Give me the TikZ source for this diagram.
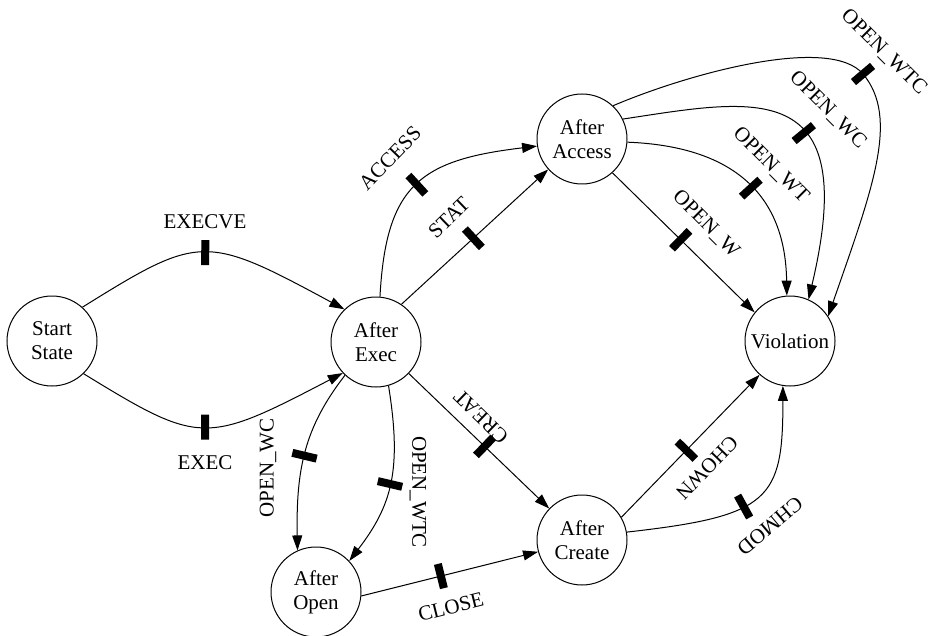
\documentclass[tikz,border=0pt]{standalone}
\usepackage{fontspec}
\setmainfont{Liberation Serif}
\usetikzlibrary{arrows.meta}
\begin{document}
\begin{tikzpicture}[x=1pt,y=-1pt,
  state/.style={circle,draw,line width=1pt,minimum size=90pt,inner sep=0pt,align=center,font=\fontsize{21}{24}\selectfont},
  edge/.style={line width=1pt,-{Triangle[length=15pt,width=10pt]}},
  bar/.style={rectangle,fill=black,draw=none,minimum width=8pt,minimum height=25pt,inner sep=0pt,sloped},
  lab/.style={font=\fontsize{21}{24}\selectfont,inner sep=0pt}]
\useasboundingbox (0,0) rectangle (933,636);

\node[state] (se) at (52,341) {Start\\State};
\node[state] (ae) at (376,342) {After\\Exec};
\node[state] (aa) at (582,139) {After\\Access};
\node[state] (vi) at (790,341) {Violation};
\node[state] (ac) at (582,540) {After\\Create};
\node[state] (ao) at (316,592) {After\\Open};

% Start -> After Exec
\draw[edge] (se.48) .. controls (200,234) and (205,234) .. (ae.134) node[bar,pos=0.5]{};
\draw[edge] (se.-46) .. controls (200,445) and (205,445) .. (ae.-137) node[bar,pos=0.5]{};
\node[lab] (lexecve) at (205,222) {EXECVE};
\node[lab] (lexec) at (205,463) {EXEC};

% After Exec -> After Access
\draw[edge] (ae.85) .. controls (386,185) and (420,160) .. (aa.189) node[bar,pos=0.5]{};
\node[lab,rotate=46] (laccess) at (390,158) {ACCESS};
\draw[edge] (ae.56) -- node[bar,pos=0.49]{} (aa.222);
\node[lab,rotate=44] (lstat) at (449,218) {STAT};

% After Access -> Violation
\draw[edge] (aa.-48) -- node[bar,pos=0.48]{} (vi.141);
\node[lab,rotate=-45] (lw) at (706,224) {OPEN\_W};
\draw[edge] (aa.-4) .. controls (700,145) and (785,170) .. (vi.94) node[bar,pos=0.6]{};
\node[lab,rotate=-45] (lwt) at (771,165) {OPEN\_WT};
\draw[edge] (aa.26) .. controls (753,99.5) and (862,74.4) .. (vi.66) node[bar,pos=0.6]{};
\node[lab,rotate=-45] (lwc) at (828,110) {OPEN\_WC};
\draw[edge] (aa.47) .. controls (690,73) and (830,35) .. (863,74) node[bar,pos=1]{}
  .. controls (900,118) and (872,190) .. (vi.33);
\node[lab,rotate=-45] (lwtc) at (884,52) {OPEN\_WTC};

% After Exec -> After Create
\draw[edge] (ae) -- node[bar,pos=0.54]{} (ac);
\node[lab,rotate=136] (lcreat) at (481,417) {CREAT};

% After Exec -> After Open
\draw[edge] (ae.227) .. controls (304,428) and (296,470) .. (ao.114) node[bar,pos=0.52]{};
\node[lab,rotate=90] (lowc) at (268,468) {OPEN\_WC};
\draw[edge] (ae.-74) .. controls (402,470) and (392,505) .. (ao.43) node[bar,pos=0.5]{};
\node[lab,rotate=-90] (lowtc) at (418,492) {OPEN\_WTC};

% After Open -> After Create
\draw[edge] (ao.-5) -- node[bar,pos=0.45]{} (ac.-165);
\node[lab,rotate=14] (lclose) at (451,607) {CLOSE};

% After Create -> Violation
\draw[edge] (ac.30) -- node[bar,pos=0.47]{} (vi.228);
\node[lab,rotate=226] (lchown) at (707,468) {CHOWN};
\draw[edge] (ac.10) .. controls (770,516) and (783,500) .. (vi.-99) node[bar,pos=0.4]{};
\node[lab,rotate=220] (lchmod) at (770,526) {CHMOD};
\end{tikzpicture}
\end{document}
